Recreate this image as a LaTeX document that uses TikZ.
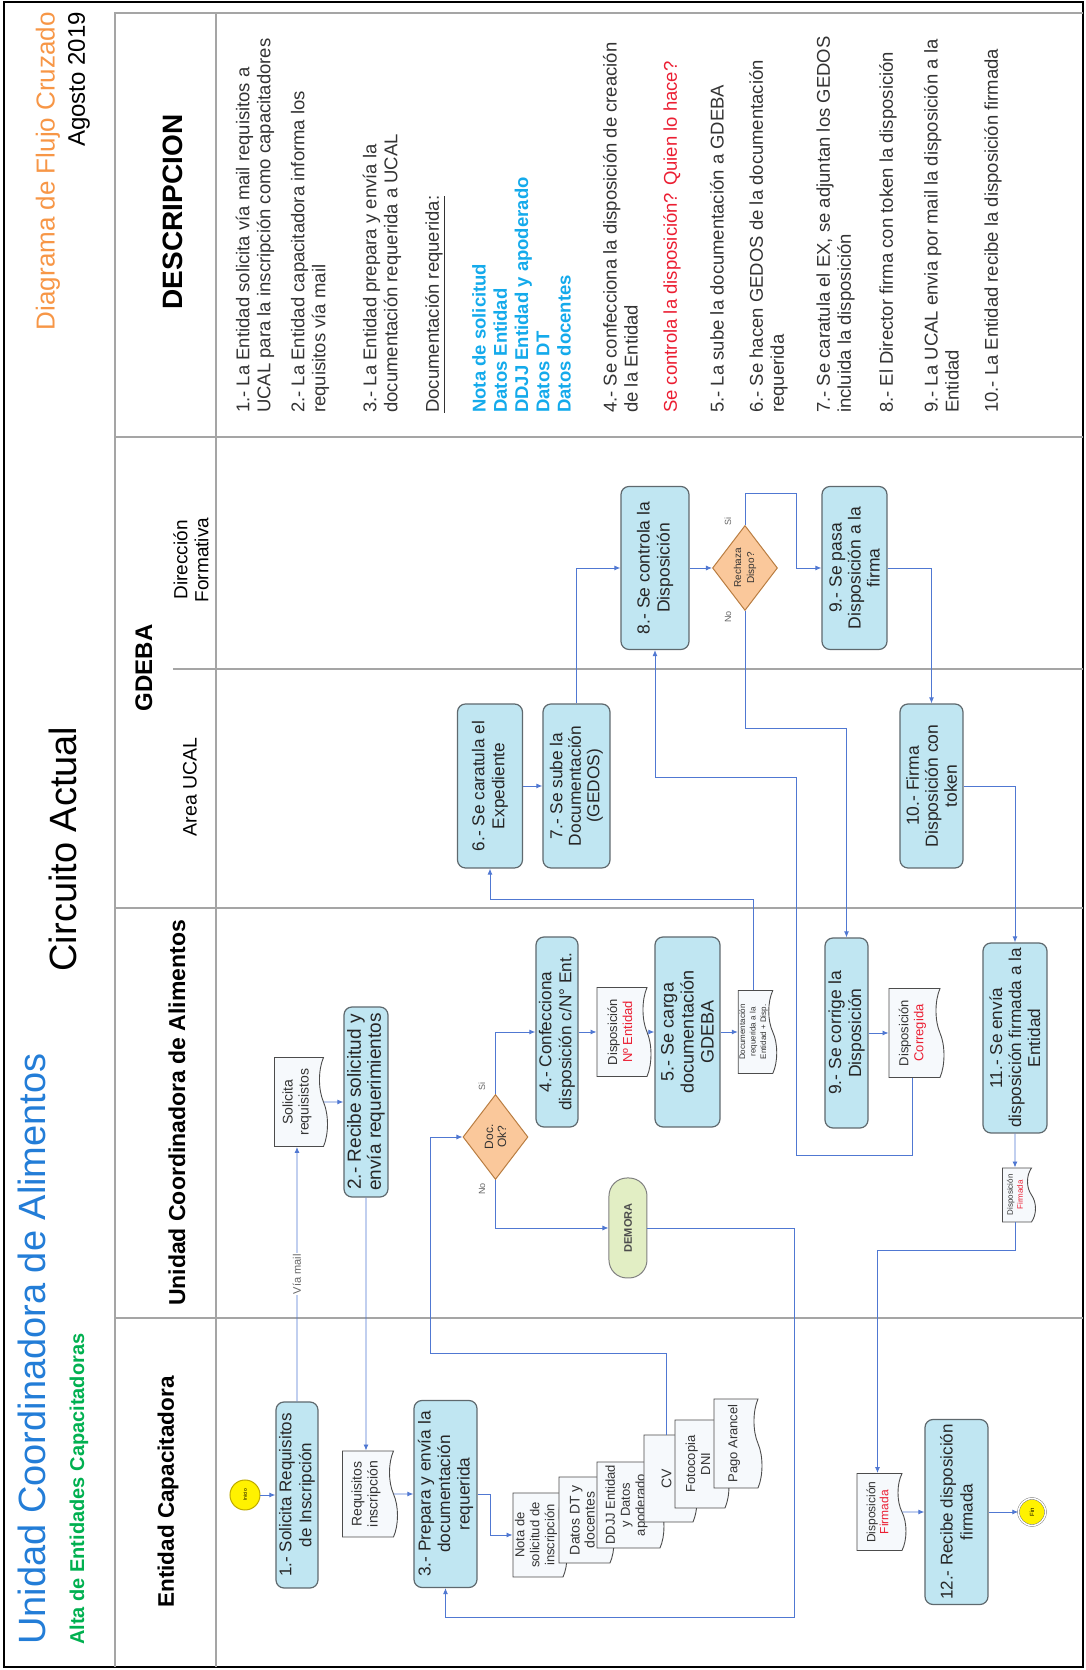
\documentclass[tikz,border=0pt]{standalone}
\usepackage{fontspec}
\setmainfont{Liberation Sans}
\usetikzlibrary{shapes.geometric,shapes.symbols,arrows.meta}

\definecolor{azulTit}{RGB}{35,125,215}
\definecolor{verdeTit}{RGB}{0,176,80}
\definecolor{naranjaTit}{RGB}{247,150,70}
\definecolor{azulDoc}{RGB}{20,170,235}
\definecolor{rojo}{RGB}{235,30,50}
\definecolor{cajaFill}{RGB}{192,230,242}
\definecolor{cajaBorde}{RGB}{95,105,110}
\definecolor{romboFill}{RGB}{250,200,155}
\definecolor{romboBorde}{RGB}{185,125,65}
\definecolor{hojaFill}{RGB}{246,249,252}
\definecolor{demoraFill}{RGB}{226,238,196}
\definecolor{azulFlecha}{RGB}{80,120,210}
\definecolor{grisCarril}{RGB}{165,165,165}
\definecolor{amarilloBorde}{RGB}{190,170,0}

\newcommand{\fsz}[2]{\fontsize{#1}{#2}\selectfont}

\tikzset{
	caja/.style={draw=cajaBorde, fill=cajaFill, line width=1.2pt, rounded corners=8pt, align=center, inner sep=1pt, text=black!85},
	rombo/.style={diamond, draw=romboBorde, fill=romboFill, line width=1pt, align=center, inner sep=0pt, minimum width=85pt, minimum height=65pt, text=black!80},
	hoja/.style={tape, tape bend top=none, tape bend bottom=in and out, tape bend height=8pt, draw=black!70, fill=hojaFill, line width=0.9pt, align=center, inner sep=1pt, text=black!80},
	terminal/.style={draw=black!50, fill=demoraFill, line width=1pt, rounded corners=18pt, text=black!70},
	flujo/.style={draw=azulFlecha, line width=0.9pt, -{Latex[length=6pt,width=5pt]}},
	carril/.style={draw=grisCarril, line width=1.3pt},
	rotulo/.style={inner sep=0pt, text=black!60, font=\fsz{9}{10}},
	desc/.style={anchor=west, align=left, inner sep=0pt, text=black!80, font=\fsz{18.5}{21}},
}

\begin{document}
\begin{tikzpicture}[x=1pt,y=1pt,rotate=90,transform shape]
	\useasboundingbox (0,0) rectangle (1670,1085);
	% Marco y carriles
	\draw [black,line width=2.2pt] (3,2) rectangle (1668,1081);
	\draw [carril] (3,970) -- (1657,970) -- (1657,2);
	\draw [carril] (3,869) -- (1657,869);
	\draw [carril] (352,970) -- (352,2);
	\draw [carril] (762,970) -- (762,2);
	\draw [carril] (1233,970) -- (1233,2);
	\draw [carril] (1001,912) -- (1001,2);
	%Titulos
	\node[anchor=west, inner sep=0pt, text=azulTit, font=\fsz{38}{40}] (titulo) at (25,1053) {Unidad Coordinadora de Alimentos};
	\node[anchor=west, inner sep=0pt, text=verdeTit, font=\bfseries\fsz{20}{22}] (subtitulo) at (25,1006) {Alta de Entidades Capacitadoras};
	\node[inner sep=0pt, font=\fsz{38}{40}] (circuito) at (821,1022) {Circuito Actual};
	\node[anchor=east, inner sep=0pt, text=naranjaTit, font=\fsz{26}{28}] (diagrama) at (1658,1037) {Diagrama de Flujo Cruzado};
	\node[anchor=east, inner sep=0pt, font=\fsz{24}{26}] (fecha) at (1658,1006) {Agosto 2019};
	%Cabeceras
	\node[font=\bfseries\fsz{22.5}{24}] (hentidad) at (178,917) {Entidad Capacitadora};
	\node[font=\bfseries\fsz{23}{25}] (hucal) at (557,908) {Unidad Coordinadora de Alimentos};
	\node[font=\bfseries\fsz{24}{26}] (hgdeba) at (1002,941) {GDEBA};
	\node[font=\fsz{19.5}{21}] (harea) at (883,895) {Area UCAL};
	\node[font=\fsz{19}{21}, align=center] (hdir) at (1110,894) {Dirección\\Formativa};
	\node[font=\bfseries\fsz{28}{30}] (hdesc) at (1458,912) {DESCRIPCION};
	%Descripcion
	\node[desc] (desc1) at (1257,830) {1.- La Entidad solicita vía mail requisitos a\\UCAL para la inscripción como capacitadores};
	\node[desc] (desc2) at (1257,775) {2.- La Entidad capacitadora informa los\\requisitos vía mail};
	\node[desc] (desc3) at (1257,703) {3.- La Entidad prepara y envía la\\documentación requerida a UCAL};
	\node[desc] (desc4) at (1257,650) {\underline{Documentación requerida:}};
	\node[desc, text=azulDoc, font=\bfseries\fsz{18.5}{21.25}] (desc5) at (1257,563.5) {Nota de solicitud\\Datos Entidad\\DDJJ Entidad y apoderado\\Datos DT\\Datos docentes};
	\node[desc] (desc6) at (1257,464.5) {4.- Se confecciona la disposición de creación\\de la Entidad};
	\node[desc, text=rojo] (desc7) at (1257,413) {Se controla la disposición? Quien lo hace?};
	\node[desc] (desc8) at (1257,368) {5.- La sube la documentación a GDEBA};
	\node[desc] (desc9) at (1257,316.5) {6.- Se hacen GEDOS de la documentación\\requerida};
	\node[desc] (desc10) at (1257,249.5) {7.- Se caratula el EX, se adjuntan los GEDOS\\incluida la disposición};
	\node[desc] (desc11) at (1257,197) {8.- El Director firma con token la disposición};
	\node[desc] (desc12) at (1257,143.5) {9.- La UCAL envia por mail la disposición a la\\Entidad};
	\node[desc] (desc13) at (1257,92) {10.- La Entidad recibe la disposición firmada};
	%Entidad Capacitadora
	\node[circle, draw=amarilloBorde, fill=yellow, line width=1pt, minimum size=30pt, inner sep=0pt, font=\fsz{5}{6}] (inicio) at (175,840) {Inicio};
	\node[caja, minimum width=186pt, minimum height=42pt, font=\fsz{17}{20}] (paso1) at (175,788) {1.- Solicita Requisitos\\de Inscripción};
	\node[hoja, minimum width=86pt, minimum height=55pt, font=\fsz{14}{16}] (docreq) at (176,719) {Requisitos\\inscripción};
	\node[caja, minimum width=187pt, minimum height=63pt, font=\fsz{17.3}{19.5}] (paso3) at (176,639.5) {3.- Prepara y envía la\\documentación\\requerida};
	\node[hoja, minimum width=84pt, minimum height=54pt, font=\fsz{13}{15}] (docnota) at (135,549) {Nota de\\solicitud de\\inscripción};
	\node[hoja, minimum width=86pt, minimum height=55pt, font=\fsz{14}{15}] (docdt) at (150,502.5) {Datos DT y\\docentes};
	\node[hoja, minimum width=86pt, minimum height=67pt, font=\fsz{13}{15}] (docddjj) at (165,458.5) {DDJJ Entidad\\y Datos\\apoderado};
	\node[hoja, minimum width=87pt, minimum height=53pt, font=\fsz{14}{16}] (doccv) at (191.5,418.5) {CV};
	\node[hoja, minimum width=88pt, minimum height=54pt, font=\fsz{13}{15}] (docdni) at (206,387) {Fotocopia\\DNI};
	\node[hoja, minimum width=89pt, minimum height=48pt, font=\fsz{13}{15}] (docpago) at (226.5,351) {Pago Arancel};
	\node[hoja, minimum width=77pt, minimum height=49pt, font=\fsz{12}{13}] (docfirmada) at (158,207.5) {Disposición\\\textcolor{rojo}{Firmada}};
	\node[caja, minimum width=185pt, minimum height=63pt, font=\fsz{17}{20}] (paso12) at (158,128.5) {12.- Recibe disposición\\firmada};
	\node[circle, draw=black!60, double=white, double distance=1.5pt, fill=yellow, minimum size=27pt, inner sep=0pt, font=\fsz{6}{7}] (fin) at (158,53) {Fin};
	%Unidad Coordinadora
	\node[hoja, minimum width=89pt, minimum height=53pt, font=\fsz{14}{16}] (docsol) at (568,788) {Solicita\\requisistos};
	\node[caja, minimum width=190pt, minimum height=44pt, font=\fsz{19}{20}] (paso2) at (568,719) {2.- Recibe solicitud y\\envía requerimientos};
	\node[rombo, font=\fsz{12}{13}] (decok) at (533,589.5) {Doc.\\Ok?};
	\node[rotulo] (si1) at (583,603) {Si};
	\node[rotulo] (no1) at (481,603) {No};
	\node[caja, minimum width=190pt, minimum height=42pt, font=\fsz{17.2}{20}] (paso4) at (638,528) {4.- Confecciona\\disposición c/N° Ent.};
	\node[hoja, minimum width=89pt, minimum height=54pt, font=\fsz{13}{15}] (docnro) at (638,465) {Disposición\\\textcolor{rojo}{Nº Entidad}};
	\node[terminal, minimum width=100pt, minimum height=38pt, font=\bfseries\fsz{11}{12}] (demora) at (442,457) {DEMORA};
	\node[caja, minimum width=190pt, minimum height=65pt, font=\fsz{18}{20}] (paso5) at (638,397.5) {5.- Se carga\\documentación\\GDEBA};
	\node[hoja, minimum width=83pt, minimum height=37pt, font=\fsz{8}{10.5}] (docgdeba) at (638,331.5) {Documentación\\requerida a la\\Entidad + Disp.};
	\node[caja, minimum width=190pt, minimum height=43pt, font=\fsz{17.5}{20}] (paso9b) at (637,238.5) {9.- Se corrige la\\Disposición};
	\node[hoja, minimum width=89pt, minimum height=55pt, font=\fsz{13}{15}] (doccorr) at (637,172.5) {Disposición\\\textcolor{rojo}{Corregida}};
	\node[caja, minimum width=190pt, minimum height=64pt, font=\fsz{17.2}{19}] (paso11) at (632,70) {11.- Se envía\\disposición firmada a la\\Entidad};
	\node[hoja, minimum width=54pt, minimum height=33pt, font=\fsz{8}{10}] (docfirma) at (475,70) {Disposición\\\textcolor{rojo}{Firmada}};
	%GDEBA
	\node[caja, minimum width=164pt, minimum height=65pt, font=\fsz{17.2}{20}] (paso6) at (884,595) {6.- Se caratula el\\Expediente};
	\node[caja, minimum width=164pt, minimum height=67pt, font=\fsz{17.3}{18.5}] (paso7) at (884,508.5) {7.- Se sube la\\Documentación\\(GEDOS)};
	\node[caja, minimum width=164pt, minimum height=63pt, font=\fsz{17.5}{19}] (paso10) at (884,153.5) {10.- Firma\\Disposición con\\token};
	\node[caja, minimum width=163pt, minimum height=68pt, font=\fsz{17.5}{20}] (paso8) at (1102,430) {8.- Se controla la\\Disposición};
	\node[rombo, font=\fsz{10}{13}] (decrech) at (1102,340) {Rechaza\\Dispo?};
	\node[rotulo] (si2) at (1148,357) {Si};
	\node[rotulo] (no2) at (1053,357) {No};
	\node[caja, minimum width=163pt, minimum height=65pt, font=\fsz{17.5}{19}] (paso9) at (1102,230.5) {9.- Se pasa\\Disposición a la\\firma};
	%Codos
	\coordinate (codo1) at (317,655);
	\coordinate (codo2) at (771,595);
	\coordinate (codo3) at (53,291);
	\coordinate (codo4) at (1177,289);
	\coordinate (codo5) at (942,238.5);
	\coordinate (codo6) at (515,289);
	\coordinate (codo7) at (893,430);
	\coordinate (codo8) at (420,207.5);
	%Flujo
	\draw [flujo] (inicio) -- (paso1);
	\draw [flujo] (paso1) -- node[fill=white, inner sep=1pt, text=black!60, font=\fsz{11}{12}] (viamail) {Vía mail} (docsol);
	\draw [flujo] (docsol) -- (paso2);
	\draw [flujo] (paso2) -- (docreq);
	\draw [flujo] (docreq) -- (paso3);
	\draw [flujo] (paso3.south) -- ++(0,-13) -| (docnota.north);
	\draw [flujo] (doccv.east) -| (codo1) -| (decok.north);
	\draw [flujo] (decok.east) -| (paso4.north);
	\draw [flujo] (decok.west) -| (demora.north);
	\draw [flujo] (paso4) -- (docnro);
	\draw [flujo] (docnro) -- (paso5);
	\draw [flujo] (paso5) -- (docgdeba);
	\draw [flujo] (docgdeba.east) -| (codo2) -- (paso6.west);
	\draw [flujo] (demora.south) |- (codo3) |- (paso3.west);
	\draw [flujo] (paso6) -- (paso7);
	\draw [flujo] (paso7.east) -| (paso8.north);
	\draw [flujo] (paso8) -- (decrech);
	\draw [flujo] (decrech.east) -| (codo4) -| (paso9.north);
	\draw [flujo] (decrech.west) -| (codo5) -- (paso9b.east);
	\draw [flujo] (paso9b) -- (doccorr);
	\draw [flujo] (doccorr.west) -| (codo6) -| (codo7) -- (paso8.west);
	\draw [flujo] (paso9.south) |- (paso10.east);
	\draw [flujo] (paso10.south) |- (paso11.east);
	\draw [flujo] (paso11) -- (docfirma);
	\draw [flujo] (docfirma.west) -| (codo8) -- (docfirmada.east);
	\draw [flujo] (docfirmada) -- (paso12);
	\draw [flujo] (paso12) -- (fin);
\end{tikzpicture}
\end{document}
